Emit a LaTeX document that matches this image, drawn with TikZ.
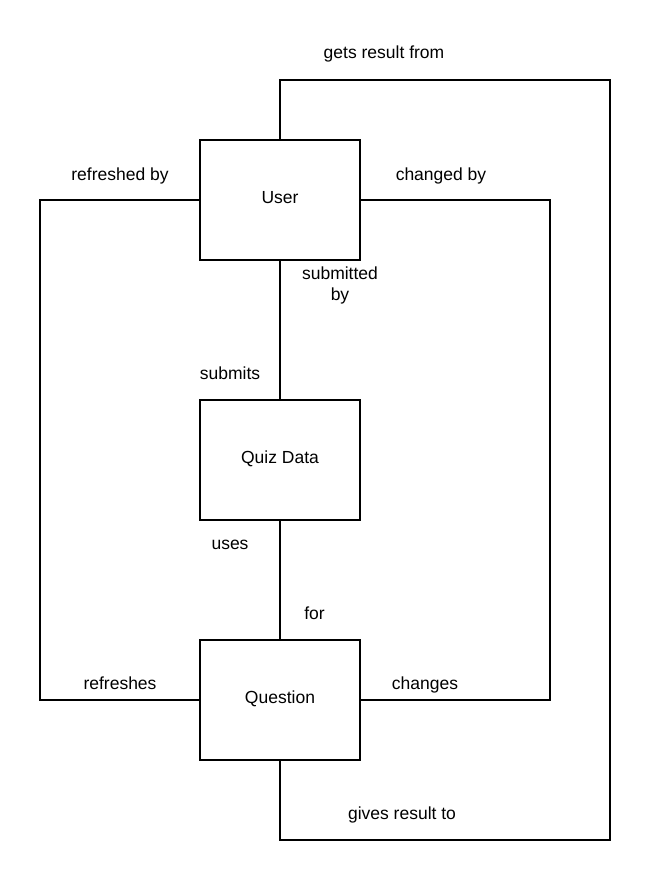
\documentclass[tikz,border=0pt]{standalone}
\usepackage{fontspec}
\setmainfont{Liberation Sans}
\usetikzlibrary{positioning}

\begin{document}
\begin{tikzpicture}[x=1pt,y=-1pt]
        \tikzset{every node/.style={font=\fontsize{17.5}{21}\selectfont},
          entity/.style={draw, line width=2pt, minimum width=160pt, minimum height=120pt,
            inner sep=0pt, outer sep=0pt, text height=12pt, text depth=6pt},
          rel/.style={anchor=base, inner sep=0pt, align=center},
          link/.style={line width=2pt}}
        \useasboundingbox (0,0) rectangle (651,880);

        \node[entity] (user) at (280,200) {User};
        \node[entity, below=140pt of user] (quiz) {Quiz Data};
        \node[entity, below=120pt of quiz] (question) {Question};

        % corners of the loops
        \coordinate (lefttop) at (40,200);
        \coordinate (righttop) at (550,200);
        \coordinate (outertop) at (610,80);
        \coordinate (outerbot) at (610,840);

        \draw[link] (user) -- (quiz);
        \draw[link] (quiz) -- (question);
        \draw[link] (user.west) -- (lefttop) |- (question.west);
        \draw[link] (user.east) -- (righttop) |- (question.east);
        \draw[link] (user.north) |- (outertop) -- (outerbot) -| (question.south);

        \node[rel] (getsfrom) at (384,59) {gets result from};
        \node[rel] (refreshedby) at (120,180) {refreshed by};
        \node[rel] (changedby) at (441,180) {changed by};
        \node[inner sep=0pt, align=center] (submittedby) at (340,285) {submitted\\by};
        \node[rel] (submits) at (230,379) {submits};
        \node[rel] (uses) at (230,549) {uses};
        \node[rel] (for) at (314.5,619) {for};
        \node[rel] (refreshes) at (120,689) {refreshes};
        \node[rel] (changes) at (425,689) {changes};
        \node[rel] (givesto) at (402,819) {gives result to};
      \end{tikzpicture}
\end{document}
